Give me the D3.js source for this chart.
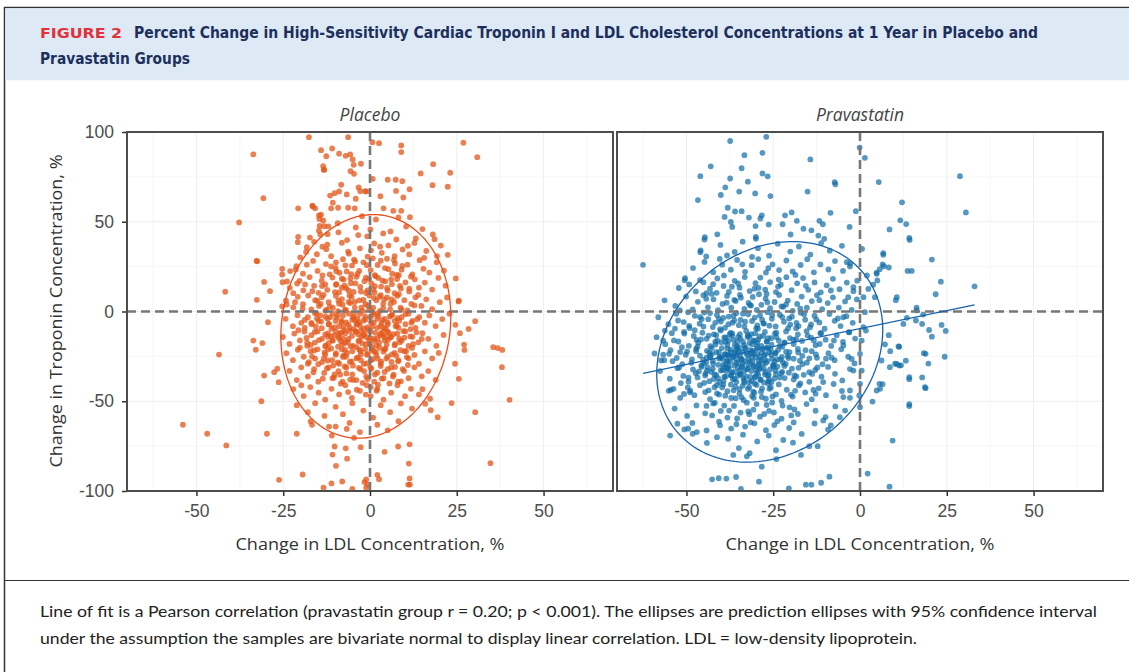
<!DOCTYPE html>
<html lang="en">
<head>
<meta charset="utf-8">
<title>Figure 2</title>
<script src="https://cdn.jsdelivr.net/npm/d3@7"></script>
<style>
  body { margin:0; background:#fff; }
  svg { display:block; font-family:"Open Sans","Noto Sans",sans-serif; }
</style>
</head>
<body>
<div id="chart"></div>
<script>
// ---- data ----
var groups = ["Placebo", "Pravastatin"]
var xTicks = [-50, -25, 0, 25, 50]
var yTicks = [-100, -50, 0, 50, 100]
var xMinor = [-62.5, -37.5, -12.5, 12.5, 37.5, 62.5]
var yMinor = [-75, -25, 25, 75]

// [change in LDL %, change in troponin %]
var placeboPoints = [
[-17.6,97.1],[-33.6,87.5],[-30.7,63.1],[-37.7,49.6],[-32.5,28],[-41.7,11],[-30.5,16.5],[-32.6,6.5],[-28.8,11.3],[-29.4,-6],[-20.7,57.5],[-20.8,38.6],[-25.3,23.8],[-23,22.5],[-21.4,23.4],[-23.9,16.7],[-21,15.6],[-22.1,10.2],[-24,3.9],[-21.6,5.2],[-25.3,2.9],[-16.5,58.5],[-15.8,57.5],[-14.1,89.9],[-12.6,86.5],[-13.5,81],[-13.2,79],[-14.7,53.5],[-13.5,50.7],[-13.2,47.5],[-14.7,45],[-12.3,37.3],
[-6.3,97.1],[0.7,94.3],[2.6,93.8],[9,92.5],[9,88.8],[26.9,94],[30.9,86],[-10.9,90.8],[-8.9,87.9],[-7,86.7],[-5.7,87.5],[-5,84.7],[-4.7,81.7],[-2.6,82.3],[-5.6,78.2],[-4.6,76.7],[-13.3,78.9],[0.8,73.9],[5.1,73.4],[7.4,73.4],[9.3,72.6],[7.5,67.2],[11.4,68.1],[9.6,63.5],[3,64.2],[14.6,76.9],[18.2,82.1],[23.1,77.3],[18,70.4],[22.4,69.5],[-8.3,70.6],[-3.3,69.1],[-2.8,67],[-1.4,67],[-16.6,59],[-14.1,53.9],[-10.7,60.6],[-11.2,57.5],[-9.2,57.8],[-6.3,57.8],[-4.4,57.5],[3.9,57.5],[6.7,56.1],[9,56.1],[-32.7,28.2],[-25.3,20.6],[-20.7,41.6],[-18.2,35.8],[-16.1,38.8],[-14.3,42.9],[-14.5,47.7],[-12,47.4],[18.1,42.9],[18.6,40.3],[22.4,31.6],[24.7,18.4],[25.6,6.1],[-10.2,65.9],[-11.5,64.6],[-6.7,65.2],[-4.1,62.8],[-1,66.9],[-8.9,66.9],[11.5,52.5],[-14.6,51.6],
[-33.6,-16.2],[-31,-17.6],[-32.9,-21.3],[-30.5,-35.7],[-27.6,-33.8],[-26.7,-31.9],[-31.3,-50],[-29.7,-68.1],[-21.1,-68.1],[-19.4,-90.8],[-26.2,-93.8],[-10.8,-79.7],[-10.2,-75.2],[-7,-76.2],[-2.7,-75.6],[-13.4,-98.2],[-11.1,-95.8],[-8,-94.7],[-5.1,-98.8],[-1.1,-93.6],[-1.6,-95],[-0.7,-96.4],[-1.1,-98.2],[2.1,-91],[2.6,-93.4],[4.2,-78.2],[8.1,-75.2],[11.4,-74],[11.2,-84.7],[11.4,-93],[11,-96.4],[11.5,-96.4],[17.5,-55],[19.5,-58.9],[23.5,-51],[30.3,-56.1],[34.7,-84.5],[40.2,-49.2],[38,-31],[35.5,-19.9],[36.8,-20.4],[38.1,-21.4],[30.3,-5.4],[28.4,-9.7],[27.1,-18.4],[27.2,-21.4],[25.6,-37.5],[24.5,-29.1],[25.9,-12.1],[24.6,-7.4],[25.5,5.6],[17.3,-48.6],[15.9,-51.4],[15.1,-43.3],[-53.9,-63.1],[-46.9,-68.1],[-41.4,-74.6],[-43.5,-24],[-4.6,-70.4],[-6.7,-65.4],[-9.9,-64.1],[-11,-69.1],[-16.7,-63.1],[-26.3,-39.4],[-9.8,-86],[-6.6,-82],
[-9.3,49.2],[-4.1,46.8],[1.7,51.3],[5.9,44.6],[-12.2,43.1],[-0.8,41.9],[10.4,47.3],[13.2,40.7],[-6.6,39.8],[3.8,43.5],[15.1,45.9],[-17.3,41.2],[8.2,52.4],[-2.3,53.1],
[-18.4,33.2],[-13.7,36.1],[-11.2,30.8],[-8.1,38.3],[-6.3,33.4],[-2.9,35.2],[-0.7,30.6],[1.2,37.9],[3.4,32.7],[5.3,36.8],[7.1,30.9],[9.4,34.6],[11.3,31.8],[12.8,38.2],[16.2,33.7],[19.3,30.9],[-20.1,30.2],[-4.6,28.9],[20.4,36.7],[-9.8,27.3],[0.3,34.1],
[-21.2,25.3],[-19.3,21.1],[-16.4,28.2],[-15.1,22.6],[-12.7,26.4],[-11.6,20.7],[-9.9,24.2],[-7.8,29.1],[-6.7,22.3],[-5.2,25.6],[-3.6,20.9],[-1.9,27.4],[0.2,23.1],[1.4,20.3],[3.1,28.3],[4.3,24.2],[6.4,21.1],[7.2,26.8],[9.1,23.3],[10.8,26.1],[12.2,20.6],[14.3,28.6],[15.4,23.8],[17.1,21.7],[19.2,27.4],[21.3,22.8],[-0.9,25.8],[-18.2,26.1],[8.3,20.2],[4.9,29.4],[-8.8,21.6],[2.2,25.9],
[-23.1,13.2],[-20.3,17.1],[-19.2,11.8],[-17.4,19.2],[-16.1,14.3],[-14.8,10.4],[-13.9,17.2],[-12.3,12.1],[-10.8,18.9],[-9.7,15.2],[-8.9,10.7],[-7.6,17.8],[-6.8,12.9],[-5.5,15.8],[-4.7,10.9],[-3.9,19.3],[-2.8,13.7],[-1.6,16.9],[-0.7,11.8],[0.4,15.6],[1.3,10.6],[2.4,18.7],[3.2,13.9],[4.4,16.8],[5.1,11.7],[6.3,15.2],[7.8,18.1],[8.9,12.8],[10.2,16.2],[11.3,11.2],[12.9,17.9],[14.1,13.3],[15.8,16.1],[17.9,12.2],[19.7,18.7],[21.8,14.4],[-12.9,15.1],[7.1,10.2],[-25.2,16.3],[-0.3,18.1],[-7.3,14.4],
[-24.2,6.1],[-22.1,2.3],[-20.8,8.2],[-19.3,4.1],[-17.8,8.9],[-16.9,1.2],[-15.8,6.3],[-14.7,3.1],[-13.9,7.9],[-12.8,0.4],[-11.9,5.2],[-10.7,2.1],[-9.8,8.7],[-8.9,4.3],[-8.1,6.9],[-7.2,1.1],[-6.1,5.3],[-5.3,8.1],[-4.4,2.2],[-3.1,6.2],[-2.2,0.3],[-1.3,4.1],[-0.2,8.9],[0.9,2.1],[1.8,6.2],[2.9,0.4],[3.8,4.3],[4.9,7.8],[5.8,1.2],[6.9,5.3],[7.8,8.7],[8.8,2.1],[9.9,6.3],[10.8,0.6],[11.9,4.2],[13.1,7.9],[14.8,3.1],[16.2,6.8],[17.9,1.3],[20.1,5.2],[22.2,7.8],[-9.2,0.2],[3.1,9.1],[-14.2,4.2],[6.2,6.8],[-0.6,3.2],[-5.7,4.7],[1.1,7.6],
[-24.3,-4.1],[-22.2,-8.2],[-20.9,-2.1],[-19.8,-6.3],[-18.8,-9.1],[-17.9,-3.2],[-16.8,-7.1],[-15.9,-0.8],[-14.8,-5.2],[-13.9,-9.3],[-12.8,-2.9],[-11.9,-7.2],[-10.8,-1.1],[-9.9,-5.3],[-8.9,-8.2],[-7.8,-2.2],[-6.9,-6.1],[-5.8,-9.2],[-4.9,-3.1],[-3.9,-7.2],[-2.9,-1.2],[-1.9,-5.1],[-0.8,-8.9],[0.2,-3.2],[1.1,-6.1],[2.2,-1.1],[3.1,-8.2],[4.2,-4.1],[5.1,-7.2],[6.2,-2.1],[7.1,-5.2],[8.2,-9.1],[9.1,-3.2],[10.2,-7.1],[11.1,-1.2],[12.2,-5.2],[13.1,-9.1],[14.2,-3.1],[15.8,-6.2],[17.1,-2.2],[18.9,-8.1],[20.8,-4.2],[22.9,-1.2],[-8.2,-5.1],[-3.2,-6.1],[2.1,-4.1],[-12.2,-4.1],[-6.1,-1.2],[4.1,-9.1],[-10.3,-8.8],[-4.4,-4.6],[0.7,-0.4],[-15.3,-3.9],[7.7,-7.6],[-1.4,-2.7],
[-25.1,-14.2],[-23.2,-18.1],[-21.8,-12.3],[-20.2,-16.1],[-18.9,-11.2],[-18.1,-19.1],[-16.9,-13.2],[-15.9,-17.3],[-15.1,-11.1],[-13.8,-15.2],[-12.9,-19.3],[-12.1,-12.2],[-10.9,-16.2],[-9.8,-11.1],[-9.1,-14.1],[-7.9,-18.2],[-7.1,-12.1],[-6.2,-15.3],[-4.9,-19.1],[-4.1,-11.2],[-3.1,-16.1],[-1.9,-13.2],[-1.1,-18.3],[0.1,-11.1],[1.2,-15.2],[1.9,-19.1],[3.1,-12.2],[4.2,-16.1],[5.1,-11.3],[6.1,-14.2],[7.2,-18.1],[7.9,-12.3],[9.1,-16.2],[10.2,-11.1],[11.1,-19.2],[12.2,-14.1],[13.9,-17.2],[15.1,-12.1],[16.8,-15.2],[19.1,-19.1],[21.2,-13.1],[-5.9,-10.8],[-0.9,-14.3],[3.8,-13.4],[-11.3,-13.7],[8.4,-15.1],[-2.6,-10.6],[-8.4,-16.6],
[-24.1,-23.2],[-22.2,-27.1],[-20.8,-21.3],[-19.1,-25.2],[-17.9,-29.1],[-17.1,-22.1],[-15.8,-26.2],[-15.1,-21.1],[-13.8,-28.2],[-12.9,-24.1],[-12.1,-21.2],[-10.9,-27.1],[-9.8,-23.2],[-8.9,-29.1],[-8.1,-21.1],[-6.9,-25.2],[-5.8,-28.1],[-5.1,-22.2],[-3.9,-26.1],[-3.1,-21.2],[-1.8,-29.2],[-0.9,-24.1],[0.2,-27.2],[1.1,-22.1],[2.2,-26.2],[3.1,-29.1],[4.2,-21.1],[5.1,-25.2],[6.2,-28.1],[7.1,-23.1],[8.2,-27.2],[9.9,-22.1],[11.1,-26.1],[12.8,-24.2],[14.1,-29.1],[15.8,-22.2],[17.9,-26.1],[19.8,-23.1],[-7.6,-24.4],[-2.6,-23.8],
[-23.2,-33.1],[-21.1,-38.2],[-19.8,-31.1],[-17.9,-36.2],[-16.1,-32.1],[-14.9,-39.1],[-13.2,-34.2],[-11.9,-31.1],[-10.8,-37.2],[-9.1,-33.2],[-7.9,-39.1],[-6.8,-31.2],[-5.1,-35.1],[-3.9,-38.2],[-2.8,-32.1],[-1.1,-36.2],[0.1,-31.1],[1.2,-39.1],[2.1,-34.1],[3.9,-37.2],[5.1,-32.1],[6.8,-35.2],[8.1,-39.1],[9.8,-33.1],[11.1,-37.2],[12.8,-31.1],[14.9,-36.1],[16.8,-33.2],[18.9,-38.1],[-10.2,-35.1],
[-22.1,-43.2],[-19.1,-47.1],[-17.2,-42.1],[-14.8,-45.2],[-12.9,-49.1],[-11.1,-43.1],[-8.9,-46.2],[-7.1,-41.1],[-5.2,-48.1],[-2.9,-44.2],[-0.9,-41.1],[0.2,-47.1],[2.1,-43.2],[3.9,-49.1],[6.1,-45.2],[7.9,-41.1],[10.1,-47.2],[11.8,-43.1],[14.1,-46.2],[-19.8,-41.1],
[-21.1,-52.2],[-17.9,-56.1],[-15.8,-51.1],[-13.1,-58.2],[-9.9,-53.1],[-7.8,-57.2],[-5.1,-51.1],[-1.9,-55.2],[0.9,-59.1],[3.1,-52.2],[5.8,-56.1],[8.9,-51.2],[12.1,-54.1],
[-17.1,-61.2],[-11.8,-64.1],[-5.9,-62.1],[-2.9,-67.2],[2.1,-63.1],[5.1,-66.2],[8.2,-61.1]
]

// the crowded middle of the placebo cloud
var placeboCorePoints = [
[-3.4,-12.7],[-7.9,3.8],[2.6,-17.4],[-11.2,-20.6],[5.7,-2.9],[-15.6,-8.3],[0.9,12.4],[-5.3,-27.8],[8.8,-21.6],[-1.7,-33.2],[-9.6,-3.4],[4.1,6.7],[-13.8,14.2],[11.7,-9.8],[-6.4,-16.9],[1.8,-24.3],[-18.3,-14.7],[7.2,-30.9],[-2.5,2.1],[-10.1,10.8],
[3.3,-6.6],[-4.8,-38.1],[13.6,-4.3],[-16.7,-25.1],[-0.4,-10.2],[6.1,17.9],[-8.7,-12.3],[9.9,-14.6],[-12.4,-31.7],[-3.1,22.6],[2.3,-40.8],[-7.2,-21.4],[12.8,3.4],[-19.4,1.6],[0.6,-19.7],[-5.9,8.9],[4.7,-26.2],[-14.3,-2.2],[8.3,9.6],[-1.2,-46.3],
[-9.3,-28.4],[5.4,-11.9],[-17.1,-18.6],[1.1,-1.6],[-4.2,15.7],[10.6,-25.4],[-11.8,-6.9],[-2.7,-22.1],[7.9,-3.7],[-6.8,-34.5],[3.8,1.9],[-13.1,-22.8],[14.9,-15.3],[-0.9,-28.9],[-8.1,18.3],[6.6,-36.2],[-15.2,5.9],[2.9,-13.3],[-5.1,-4.6],[11.3,12.7],
[-10.7,-16.1],[-1.9,6.4],[4.4,-20.8],[-20.6,-10.4],[8.6,-17.2],[-3.8,-43.6],[-12.9,-12.8],[0.3,-6.3],[-7.6,-8.7],[9.4,-32.1],[-2.2,-17.8],[5.9,4.2],[-16.3,-33.9],[1.6,19.6],[-9.9,-24.1],[12.1,-20.3],[-4.6,-1.3],[3.1,-30.4],[-14.7,-15.9],[7.4,-8.2],
[-0.7,-37.6],[-6.1,11.6],[10.2,-1.4],[-11.6,2.7],[2.1,-9.1],[-8.4,-40.2],[6.3,-23.9],[-18.8,-4.7],[-3.5,-25.6],[4.9,13.1],[-12.2,-27.3],[0.1,-14.8],[-5.6,-19.3],[13.4,-11.6],[-9.1,6.1],[1.4,-35.1],[-15.9,-11.4],[8.1,-27.7],[-2.9,-7.9],[-7.3,-30.6],
[3.6,-4.9],[-13.4,9.3],[11.9,-6.3],[-1.4,-20.9],[5.2,-15.8],[-10.4,-36.8],[-4.1,-11.1],[7.7,20.4],[-17.6,-28.2],[0.8,-26.6],[-6.9,0.6],[9.6,-10.9],[-12.7,-18.9],[2.7,8.1],[-8.9,-14.9],[4.2,-33.7],[-20.2,-20.1],[-0.2,1.3],[-3.2,-31.4],[6.8,-12.6],
[-11.1,-9.6],[1.9,-44.2],[-5.4,20.8],[10.9,-29.8],[-14.1,-5.6],[3.9,-22.4],[-7.8,-25.3],[-1.1,10.3],[8.4,-5.1],[-16.1,-21.7],[5.6,-40.1],[-9.4,-1.9],[-2.4,-14.1],[12.4,-18.2],[-6.3,-44.9],[0.4,-31.8],[-13.6,-37.4],[7.1,-18.9],[-4.4,5.3],[2.4,-2.6],
[-10.6,-30.1],[-0.6,-23.6],[9.1,1.1],[-15.4,-1.1],[4.6,-9.7],[-7.1,-17.5],[-3.6,-3.8],[6.1,-31.2],[-12.1,-14.1],[1.2,-16.4],[-8.2,-6.1],[11.6,-13.9],[-5.7,-37.9],[-18.1,-17.3],[3.4,-37.4],[-1.8,-9.6],[-9.8,14.9],[7.6,-24.7],[-14.9,-29.4],[0.2,-42.1],
[-6.6,-23.1],[2.8,-20.2],[-11.4,-3.1],[5.1,-6.1],[-3.3,-16.7],[8.9,-38.9],[-16.9,-6.3],[-0.1,-18.1],[-8.6,-35.2],[4.3,-14.2],[-12.6,0.9],[10.4,-22.1],[-4.9,-30.2],[1.5,-11.9],[-7.4,-10.4],[6.4,-1.7],[-2.1,-39.8],[-13.3,-26.1],[3.2,-27.9],[-9.2,-19.6],
[-1.3,-4.4],[-5.2,-13.6],[0.7,-8.4],[-3.9,-19.9],[2.2,-14.9],[-6.2,-7.3],[1.7,-22.6],[-8.3,-11.8],[-2.6,-27.1],[4.8,-18.4],[-10.2,-13.2],[-0.3,-16.1],[-4.7,-9.8],[3.7,-11.2],[-7.7,-15.1],[-1.6,-12.4],[5.8,-14.4],[-11.9,-17.7],[0.5,-21.3],[-3.7,-6.8],
[-9.7,22.4],[-4.3,27.9],[0.8,29.6],[5.3,23.6],[-13.7,20.1],[-1.2,18.8],[8.6,14.3],[-7.1,25.7],[3.6,17.2],[-16.6,11.3],[11.8,19.4],[-2.6,11.1],[-11.2,25.1],[6.9,28.7],[-5.6,18.4],[1.4,14.1],[-8.1,13.3],[13.9,9.2],[-18.7,15.1],[9.3,25.4],
[-6.1,32.2],[2.9,36.1],[-12.6,34.7],[7.6,40.1],[-3.4,42.6],[10.9,36.6],[-15.3,31.9],[0.1,45.7],[-9.1,44.1],[15.6,29.9]
]

var pravastatinPoints = [
[-37.4,95],[-27,97.3],[-28.1,88.4],[-33.3,87.1],[-43,80.9],[-46,75.4],[-34.1,79.8],[-28.1,76.9],[-26.6,75.3],[-37.4,74.1],[-32.3,72.3],[-38.8,69.2],[-40.1,64.9],[-34.8,66.8],[-30.2,65.8],[-25.8,64.3],[-46.7,62.1],[-14.3,84.7],[-15.1,66.8],[-7.3,72.1],[-7.1,70.9],[-0.1,91.3],[1.4,85.6],[5.4,72.1],[28.8,75.4],[30.5,55.2],[12.1,60.8],[11.6,50.8],[13.3,48.7],[8.5,45.7],[14.3,39.9],[20.7,28.9],[33,14],[23.3,16.6],[21.8,9.6],[13.7,22.6],[14.9,22.6],[10.3,6.3],[16.3,0.6],[17.9,-6.9],[19.9,-10.3],[23.5,-7.5],[24.7,-10.8],[-62.5,26],[-50.5,17.4],[-49.2,15.1],[-46.1,17.5],[-46,33],[-44.3,30.7],[-44.8,40.1],[-41.1,43],[-39,52.7],[-37.2,49.9],[-36.8,47.1],[-38.1,57.8],[-36,55.7],[-34.1,55.9],[-32,52.3],[-30.1,47.6],[-28.7,51.8],[-28.3,53.6],[-30,40.5],[-26.3,48.4],[-21.6,53.6],[-19.7,55.2],[-18.2,50.5],[-22.3,48.6],[-16.3,46.1],[-14,45.2],[-11.7,50.5],[-10.7,48.6],[-8.5,55],[-10.3,40.5],[-3,47.1],[-1.2,55.9],[0.6,34.9],[6.7,31.6],[5.7,23.6],[8.3,24.5],[4.8,21.7],
[-54.5,-43.7],[-53.7,-43.1],[-54.7,-69.1],[-52.6,-62.5],[-50.6,-65.7],[-49.5,-65.3],[-48.2,-68.1],[-47,-67.2],[-41.2,-70],[-38,-70.9],[-42.6,-93.5],[-40.7,-92.9],[-38.5,-93.1],[-35.7,-92.2],[-34.3,-98.8],[-29.1,-94.8],[-20.5,-98.5],[-36.5,-79.9],[-32.6,-80.7],[-28.3,-86.5],[-24.1,-82.2],[-17,-79.9],[-14.6,-75],[-12.2,-75],[-15.6,-96.5],[-14,-96.5],[-11.2,-95.4],[-8.8,-92],[2.2,-90.3],[8.5,-97.6],[9.4,-71.9],[14.2,-52.7],[18.9,-42.7],[17.9,-36.7],[14.2,-37.7],[24.4,-25.2],[18.9,-23.6],[19.7,-29],[20.7,-14],[10.6,-29.2],[11.8,-30],[13.2,-27.4],[11.3,-19.6],[8.7,-22.1],[7.2,-18.3],[6.5,-40.5],[5.8,-43.1],[3.6,-50.2],[-56.7,-24],[-54,-27.7],[-51.8,-22.6],[-50.6,-12.3],[-53.3,-9.5],[-49.2,-8],
[-44.7,41.4],[-30,41.6],[-20,42.9],[-12,42.3],[-45.9,34],[-50.4,18.6],[-44.2,10.2],[-42.7,9.8],[-51.9,0.6],[-49.5,-0.4],[-52.4,-5],[-56.2,-10.6],[-56.7,-16.2],[-57.3,-27.3],[-55,-23.6],[-50.7,-45.9],[-49,-45],[14.2,41],[16.3,2.1],[18.2,-1.7],[16.1,-5],[18.4,-23.2],[14.2,-36.6],[18.7,-42.2],[14.2,-51.6],[10.6,8],[12.5,-6.9],[13.5,-3.5],[11.3,-30.1],[10.1,-29.1],[8.6,-31],[11.1,-19.5],[8.3,-13.2],[6.2,-27.3],[5.6,-40.3],[4.8,-44],[6.7,32.5],[6.5,26.2],[6.9,25.2],[4.8,21],[5,17.3],[3.8,14.9],[4.3,8],[2,20.1],[2.4,12.6],[1,8],[1.4,-0.4],[1,-8.7],[1.7,-10.6],[0.5,-16.2],[0,-23.6],[0.5,-32.9],[0,-40.3],[-0.2,-46.8],[0,-53.3],[-3.8,27.5],[-2.9,25.1],[-1.9,13.5],[-3.4,8],[-4.8,-3.2],[-3.2,-11.5],[-4.8,-18.9],[-2.4,-26.4],[-1.9,-32.9],[-4.8,-47.7],[-2.9,-44],[-4.3,-55.2],[-5.8,-58.9],[-8.4,-63.5],[-10.6,-60.7],
[-40.2,37.1],[-36.1,33.2],[-33.8,38.9],[-29.4,35.3],[-26.2,31.1],[-23.7,37.8],[-20.1,33.4],[-17.6,36.2],[-14.3,31.7],[-11.2,38.1],[-8.7,33.9],[-5.2,36.6],[-31.1,30.4],[-38.3,31.2],
[-48.1,24.2],[-44.8,27.6],[-42.3,21.9],[-39.7,26.1],[-37.2,23.3],[-35.4,28.7],[-33.1,22.1],[-31.2,25.8],[-29.3,29.2],[-27.1,21.7],[-25.2,26.3],[-23.3,23.1],[-21.2,28.4],[-19.4,22.3],[-17.1,25.9],[-15.2,29.1],[-13.3,21.8],[-11.4,26.2],[-9.1,23.4],[-7.2,28.1],[-4.9,22.6],[-2.8,26.7],[-33.9,26.3],[-26.4,24.1],[-18.6,20.4],[-40.4,29.3],
[-52.2,13.1],[-47.3,11.2],[-45.1,16.3],[-43.2,12.7],[-41.1,18.4],[-39.3,14.2],[-37.8,10.9],[-36.1,17.1],[-34.7,13.3],[-33.2,19.2],[-31.8,11.4],[-30.1,15.8],[-28.7,18.9],[-27.3,12.2],[-25.9,16.4],[-24.2,10.8],[-22.8,14.9],[-21.2,19.1],[-19.7,11.9],[-18.1,15.7],[-16.4,18.6],[-14.9,12.1],[-13.1,16.2],[-11.3,10.7],[-9.6,14.6],[-7.8,18.2],[-5.9,12.4],[-3.8,16.1],[-1.9,11.3],[-36.9,13.8],[-29.2,13.2],[-23.4,17.8],[-15.6,14.3],[-42.3,15.2],[-8.4,11.7],[-0.8,17.2],
[-56.3,6.2],[-53.2,3.1],[-50.1,8.3],[-48.2,1.2],[-46.7,5.4],[-45.1,9.1],[-43.8,2.3],[-42.2,6.8],[-40.9,0.7],[-39.6,4.2],[-38.3,8.7],[-37.1,2.1],[-35.8,5.9],[-34.6,9.3],[-33.3,1.4],[-32.1,4.8],[-30.9,8.1],[-29.7,0.9],[-28.4,3.7],[-27.2,7.2],[-25.9,1.8],[-24.6,5.3],[-23.3,9.2],[-22.1,2.6],[-20.8,6.1],[-19.4,0.4],[-18.1,4.2],[-16.8,8.3],[-15.3,2.1],[-13.9,5.8],[-12.4,9.1],[-10.9,1.3],[-9.3,4.7],[-7.8,7.9],[-6.1,2.2],[-4.3,5.6],[-2.4,0.9],[-0.9,6.7],[-36.2,6.4],[-31.4,3.3],[-26.7,5.1],[-21.3,3.9],[-44.3,7.1],[-17.2,1.6],[-11.7,6.3],[-29.1,9.6],
[-58.1,-3.2],[-55.2,-7.1],[-52.9,-1.3],[-50.8,-5.9],[-49.1,-9.2],[-47.6,-2.4],[-46.2,-6.8],[-44.9,-0.6],[-43.7,-4.3],[-42.4,-8.7],[-41.2,-1.9],[-40.1,-5.6],[-38.9,-9.1],[-37.8,-2.8],[-36.7,-6.2],[-35.6,-0.9],[-34.4,-4.7],[-33.3,-8.4],[-32.2,-1.6],[-31.1,-5.3],[-29.9,-9.4],[-28.8,-2.1],[-27.7,-6.7],[-26.6,-0.4],[-25.4,-4.1],[-24.3,-8.3],[-23.1,-1.8],[-21.9,-5.7],[-20.7,-9.3],[-19.6,-2.9],[-18.3,-6.4],[-17.1,-0.7],[-15.8,-4.6],[-14.4,-8.8],[-13.1,-2.3],[-11.7,-6.1],[-10.2,-9.6],[-8.8,-1.4],[-7.3,-5.2],[-5.6,-8.1],[-3.9,-2.6],[-2.1,-6.3],[-39.4,-3.6],[-34.9,-7.6],[-30.3,-3.4],[-26.1,-7.9],[-22.4,-3.1],[-17.7,-8.1],[-12.6,-4.4],[-45.6,-4.2],[-36.2,-4.9],[-28.2,-4.6],[-6.4,-3.9],[-41.7,-6.3],
[-58.6,-14.3],[-56.1,-18.2],[-54.2,-12.1],[-52.3,-16.7],[-50.7,-11.3],[-49.3,-19.1],[-47.9,-13.6],[-46.6,-17.4],[-45.4,-11.8],[-44.2,-15.2],[-43.1,-19.3],[-42.1,-12.7],[-41.1,-16.3],[-40.1,-10.6],[-39.1,-14.4],[-38.2,-18.6],[-37.3,-11.9],[-36.4,-15.8],[-35.5,-19.4],[-34.6,-12.6],[-33.7,-16.9],[-32.8,-10.8],[-31.9,-14.1],[-31.1,-18.3],[-30.2,-12.2],[-29.3,-15.6],[-28.4,-19.1],[-27.4,-11.4],[-26.5,-14.9],[-25.5,-18.4],[-24.5,-12.3],[-23.4,-16.2],[-22.4,-19.7],[-21.3,-11.1],[-20.2,-14.8],[-19.1,-18.1],[-17.9,-12.7],[-16.7,-16.4],[-15.4,-10.9],[-14.1,-14.6],[-12.8,-18.8],[-11.4,-12.1],[-9.9,-15.7],[-8.3,-19.2],[-6.7,-13.3],[-4.9,-16.9],[-3.1,-11.6],[-1.4,-15.1],[-43.6,-13.4],[-38.7,-16.9],[-35.1,-14.2],[-32.3,-13.1],[-29.6,-17.3],[-26.9,-16.6],[-24.1,-14.3],[-21.7,-17.2],[-18.4,-15.4],[-13.3,-16.1],[-7.5,-16.2],[-47.1,-15.8],[-36.9,-13.4],[-30.7,-16.1],[-27.9,-13.6],[-33.4,-18.7],
[-59.2,-23.4],[-56.4,-27.1],[-54.6,-21.6],[-52.8,-25.9],[-51.2,-29.4],[-49.8,-22.3],[-48.4,-26.7],[-47.2,-20.8],[-46.1,-24.6],[-45.1,-28.8],[-44.1,-21.9],[-43.2,-25.4],[-42.3,-29.1],[-41.4,-22.7],[-40.6,-26.2],[-39.8,-20.4],[-38.9,-23.9],[-38.1,-27.6],[-37.3,-21.3],[-36.5,-25.1],[-35.7,-28.7],[-34.9,-22.2],[-34.1,-26.4],[-33.3,-20.6],[-32.5,-24.3],[-31.7,-28.1],[-30.9,-21.8],[-30.1,-25.6],[-29.2,-29.3],[-28.3,-22.9],[-27.4,-26.8],[-26.5,-20.3],[-25.6,-24.1],[-24.6,-27.9],[-23.6,-21.4],[-22.5,-25.3],[-21.4,-29.2],[-20.3,-22.6],[-19.1,-26.3],[-17.9,-20.9],[-16.6,-24.7],[-15.3,-28.5],[-13.9,-22.1],[-12.4,-25.8],[-10.8,-29.4],[-9.1,-23.2],[-7.3,-27.1],[-5.4,-21.1],[-3.4,-25.2],[-1.6,-28.9],[-42.7,-23.6],[-39.3,-29.6],[-36.1,-23.1],[-33.7,-28.9],[-31.3,-23.4],[-28.8,-25.2],[-26.1,-22.7],[-23.9,-26.6],[-20.8,-24.8],[-17.3,-27.4],[-37.7,-24.5],[-34.6,-24.8],[-32.1,-26.6],[-29.6,-20.6],[-27.1,-28.7],[-40.2,-25.6],[-35.3,-20.9],[-24.3,-23.1],[-14.6,-26.1],[-8.2,-25.7],
[-57.6,-33.2],[-54.8,-37.4],[-52.6,-31.6],[-50.9,-35.9],[-49.4,-39.1],[-48.1,-32.3],[-46.8,-36.7],[-45.6,-30.8],[-44.5,-34.6],[-43.4,-38.8],[-42.4,-31.9],[-41.4,-35.4],[-40.5,-39.3],[-39.6,-32.7],[-38.7,-36.2],[-37.8,-30.4],[-36.9,-33.9],[-36.1,-37.6],[-35.2,-31.3],[-34.3,-35.1],[-33.4,-38.7],[-32.5,-32.2],[-31.6,-36.4],[-30.7,-30.6],[-29.7,-34.3],[-28.7,-38.1],[-27.7,-31.8],[-26.6,-35.6],[-25.5,-39.3],[-24.3,-32.9],[-23.1,-36.8],[-21.8,-30.3],[-20.5,-34.1],[-19.1,-37.9],[-17.7,-31.4],[-16.2,-35.3],[-14.6,-39.2],[-12.9,-32.6],[-11.1,-36.3],[-9.2,-30.9],[-7.2,-34.7],[-5.1,-38.4],[-2.9,-32.1],[-44.1,-32.9],[-40.9,-37.2],[-37.2,-35.7],[-34.8,-33.2],[-31.9,-39.4],[-29.1,-32.4],[-26.2,-37.8],[-22.4,-33.6],[-18.3,-36.1],[-13.8,-34.8],[-38.3,-31.6],[-33.9,-30.7],[-30.3,-36.9],[-47.3,-34.4],[-24.8,-30.9],
[-55.1,-44.2],[-51.8,-48.1],[-49.6,-42.3],[-47.7,-46.6],[-46.1,-41.1],[-44.6,-44.9],[-43.2,-48.8],[-41.9,-42.2],[-40.6,-46.3],[-39.4,-40.7],[-38.2,-44.4],[-37.1,-48.2],[-35.9,-41.8],[-34.7,-45.7],[-33.5,-49.4],[-32.3,-43.1],[-31.1,-47.1],[-29.8,-40.9],[-28.5,-44.7],[-27.1,-48.6],[-25.7,-42.3],[-24.2,-46.2],[-22.6,-49.8],[-21.1,-43.6],[-19.4,-47.4],[-17.6,-41.2],[-15.8,-45.1],[-13.9,-48.9],[-11.9,-42.8],[-9.8,-46.6],[-7.6,-40.4],[-5.2,-44.3],[-36.4,-43.9],[-30.4,-45.3],[-26.4,-40.2],[-41.2,-45.6],[-34.1,-47.8],[-18.7,-44.2],[-12.8,-45.8],[-2.9,-48.1],
[-53.4,-54.1],[-49.8,-58.2],[-47.1,-52.3],[-44.6,-56.7],[-42.3,-51.2],[-40.1,-55.4],[-38.2,-59.1],[-36.3,-52.6],[-34.4,-56.3],[-32.6,-50.8],[-30.7,-54.7],[-28.8,-58.6],[-26.9,-52.1],[-24.8,-56.2],[-22.6,-59.7],[-20.3,-53.4],[-17.9,-57.1],[-15.4,-51.6],[-12.8,-55.3],[-9.9,-58.8],[-7.1,-52.9],[-39.1,-52.4],[-31.9,-57.3],[-25.3,-50.7],[-18.9,-54.6],
[-48.3,-62.1],[-44.2,-66.3],[-40.6,-61.4],[-37.1,-65.2],[-33.7,-68.6],[-30.4,-62.3],[-27.1,-66.1],[-23.8,-61.2],[-20.4,-64.9],[-16.8,-68.2],[-13.1,-62.4],[-9.2,-65.8],[-35.6,-62.8],[-26.3,-69.1],[-19.1,-61.8],
[-44.1,-73.2],[-34.9,-76.1],[-29.6,-72.4],[-24.2,-77.3],[-19.3,-73.1],[-31.8,-78.9],[-22.1,-71.6]
]

// the crowded middle of the pravastatin cloud
var pravastatinCorePoints = [
[-34.2,-26.8],[-29.7,-19.3],[-38.4,-33.1],[-24.9,-29.6],[-41.6,-18.4],[-31.2,-38.7],[-36.8,-12.2],[-27.6,-24.4],[-44.3,-28.3],[-21.8,-17.6],[-33.1,-5.7],[-39.7,-42.3],[-26.3,-35.2],[-35.9,-21.7],[-30.6,-30.3],[-47.2,-22.1],[-19.6,-31.8],[-37.4,-27.9],[-28.9,-13.9],[-42.1,-37.6],
[-32.6,-23.1],[-23.4,-40.6],[-40.3,-9.8],[-35.2,-35.8],[-29.1,-27.3],[-45.8,-15.6],[-25.7,-21.1],[-38.9,-23.8],[-31.8,-17.4],[-43.6,-43.9],[-27.3,-33.7],[-36.2,-30.2],[-20.6,-25.9],[-33.8,-41.4],[-40.8,-29.7],[-24.1,-11.8],[-30.1,-36.1],[-37.9,-16.3],[-46.4,-33.4],[-28.2,-42.9],
[-34.9,-19.8],[-22.7,-34.4],[-39.1,-36.4],[-32.1,-29.6],[-26.8,-16.9],[-43.1,-24.6],[-35.6,-39.2],[-29.6,-23.6],[-41.4,-13.2],[-24.6,-37.3],[-33.4,-33.4],[-38.2,-20.7],[-27.9,-29.1],[-44.9,-39.8],[-31.4,-12.6],[-36.7,-25.6],[-21.3,-22.4],[-40.1,-32.8],[-30.8,-44.6],[-34.4,-15.1],
[-25.3,-26.2],[-42.7,-20.4],[-28.6,-37.9],[-37.2,-40.7],[-32.9,-20.1],[-23.8,-30.7],[-39.6,-26.4],[-29.9,-32.6],[-45.2,-26.9],[-35.1,-28.6],[-26.1,-43.1],[-41.9,-35.1],[-31.1,-25.1],[-37.6,-12.9],[-27.1,-20.3],[-43.9,-31.1],[-33.6,-37.1],[-22.2,-28.4],[-38.6,-29.3],[-30.4,-16.4],
[-36.3,-33.7],[-24.4,-23.3],[-40.6,-22.6],[-28.4,-26.9],[-34.7,-43.3],[-46.8,-19.6],[-32.3,-31.7],[-25.9,-32.3],[-39.3,-38.6],[-29.4,-9.6],[-35.4,-23.9],[-42.4,-27.4],[-27.7,-39.6],[-31.6,-21.6],[-37.1,-35.4],[-23.1,-19.1],[-44.6,-35.7],[-33.2,-27.6],[-38.1,-24.2],[-26.6,-27.6],
[-30.3,-40.2],[-36.1,-18.6],[-41.2,-40.9],[-28.8,-31.6],[-34.1,-30.9],[-21.7,-37.1],[-39.9,-17.1],[-32.8,-36.3],[-25.6,-14.9],[-43.4,-22.9],[-29.3,-35.4],[-35.7,-26.3],[-31.9,-42.1],[-37.8,-31.9],[-24.2,-34.9],[-40.4,-25.1],[-27.2,-23.7],[-33.9,-22.6],[-45.7,-30.1],[-30.9,-27.9],
[-38.7,-14.6],[-26.4,-38.9],[-36.6,-37.8],[-32.4,-14.2],[-42.9,-33.6],[-28.1,-20.9],[-34.6,-34.7],[-22.9,-26.7],[-39.4,-31.3],[-30.7,-23.3],[-37.3,-22.9],[-25.1,-30.1],[-41.7,-16.8],[-33.3,-39.6],[-29.2,-29.9],[-35.3,-16.9],[-44.2,-25.7],[-27.4,-35.1],[-31.3,-33.2],[-38.3,-27.1],
[-18.4,-9.3],[-15.7,-21.6],[-12.3,-31.2],[-17.2,-40.1],[-14.1,-7.2],[-19.9,-46.3],[-11.6,-18.1],[-16.6,-29.4],[-13.4,-43.7],[-20.4,-3.9],[-9.8,-26.3],[-18.9,-35.6],[-15.1,-13.4],[-12.7,-23.9],[-17.8,-22.8],[-10.6,-39.3],[-14.6,-33.8],[-19.2,-15.7],[-16.1,-1.6],[-11.2,-12.1],
[-48.6,-28.6],[-51.3,-19.9],[-49.4,-36.8],[-47.6,-10.4],[-52.1,-31.2],[-50.2,-24.1],[-48.9,-44.1],[-46.1,-3.1],[-53.6,-16.1],[-51.6,-39.9],
[-36.4,-2.3],[-31.7,3.6],[-40.7,-4.1],[-27.8,-6.6],[-34.3,7.7],[-43.2,-0.9],[-25.3,-1.9],[-38.4,4.9],[-29.6,-7.8],[-22.6,2.8],[-45.1,-8.4],[-33.7,-1.2],[-20.1,-7.3],[-37.9,-7.1],[-41.3,10.4],[-26.9,9.8],[-30.4,12.7],[-35.1,15.6],[-23.6,13.9],[-39.2,20.1],
[-35.8,-48.3],[-29.8,-51.6],[-41.8,-50.9],[-25.2,-47.3],[-32.2,-55.7],[-38.8,-46.9],[-27.6,-57.1],[-44.2,-52.6],[-22.3,-52.4],[-35.4,-59.6],[-30.6,-48.1],[-40.3,-63.4],[-24.7,-63.3],[-33.1,-64.1],[-37.7,-55.2],[-19.8,-57.9],[-28.3,-47.7],[-42.6,-57.9],[-31.5,-61.8],[-26.2,-55.4]
]

// 95% prediction ellipses (centre, sd of each axis, correlation) and the pravastatin line of fit
var placeboEllipse = {cx: -1.2, cy: -8.3, sx: 10.0, sy: 25.45, r: 0.09}
var pravastatinEllipse = {cx: -26, cy: -22.5, sx: 13.3, sy: 25.1, r: 0.2}
var pravastatinFit = {slope: 0.4, intercept: -9.5, from: -62.5, to: 33}

var panels = [
  {name: groups[0], points: placeboPoints.concat(placeboCorePoints), ellipse: placeboEllipse, fit: null,
   left: 127, fill: "#E3581B", opacity: 0.76, stroke: "#EB4E1A"},
  {name: groups[1], points: pravastatinPoints.concat(pravastatinCorePoints), ellipse: pravastatinEllipse, fit: pravastatinFit,
   left: 617, fill: "#0F6CA6", opacity: 0.7, stroke: "#1763AE"}
]

var W = 1129, H = 672
var panelW = 486, panelTop = 132, panelBottom = 491
var k = 2.4477  // sqrt of chi-square(2 df) 95% quantile
var plain = function(d){ return String(d) }

var svg = d3.select("#chart").append("svg").attr("width", W).attr("height", H)

// frame, header band and caption rule
svg.append("rect").attr("x", 4.5).attr("y", 7.5).attr("width", W).attr("height", H)
  .attr("fill", "#fff").attr("stroke", "#333").attr("stroke-width", 1.5)
svg.append("rect").attr("x", 5.25).attr("y", 8.25).attr("width", W).attr("height", 72)
  .attr("fill", "#DDEAF6")
svg.append("line").attr("x1", 4.5).attr("x2", W).attr("y1", 580.5).attr("y2", 580.5)
  .attr("stroke", "#333").attr("stroke-width", 1.2)

var titleFont = "'Liberation Sans Narrow','DejaVu Sans Condensed','Liberation Sans',sans-serif"
svg.append("text").attr("x", 40).attr("y", 38).text("FIGURE 2")
  .attr("font-family", titleFont).attr("font-weight", "bold").attr("font-size", 14)
  .attr("fill", "#E2313A").attr("textLength", 82).attr("lengthAdjust", "spacingAndGlyphs")
svg.append("text").attr("x", 134).attr("y", 38)
  .text("Percent Change in High-Sensitivity Cardiac Troponin I and LDL Cholesterol Concentrations at 1 Year in Placebo and")
  .attr("font-family", titleFont).attr("font-weight", "bold").attr("font-size", 15.5)
  .attr("fill", "#1D2F5C").attr("textLength", 904).attr("lengthAdjust", "spacingAndGlyphs")
svg.append("text").attr("x", 40).attr("y", 64).text("Pravastatin Groups")
  .attr("font-family", titleFont).attr("font-weight", "bold").attr("font-size", 15.5)
  .attr("fill", "#1D2F5C").attr("textLength", 150).attr("lengthAdjust", "spacingAndGlyphs")

svg.append("text").attr("x", 40).attr("y", 617)
  .text("Line of fit is a Pearson correlation (pravastatin group r = 0.20; p < 0.001). The ellipses are prediction ellipses with 95% confidence interval")
  .attr("font-family", "Lato, sans-serif").attr("font-size", 16).attr("fill", "#222")
  .attr("textLength", 1057).attr("lengthAdjust", "spacingAndGlyphs")
svg.append("text").attr("x", 40).attr("y", 644)
  .text("under the assumption the samples are bivariate normal to display linear correlation. LDL = low-density lipoprotein.")
  .attr("font-family", "Lato, sans-serif").attr("font-size", 16).attr("fill", "#222")
  .attr("textLength", 877).attr("lengthAdjust", "spacingAndGlyphs")

var y = d3.scaleLinear().domain([-100, 100]).range([panelBottom, panelTop])

// y axis on the left panel only
var yAxis = svg.append("g").attr("transform", "translate(127,0)")
  .call(d3.axisLeft(y).tickValues(yTicks).tickFormat(plain).tickSize(5).tickPadding(8))
yAxis.select(".domain").remove()
yAxis.selectAll("line").attr("stroke", "#333").attr("stroke-width", 1.5)
yAxis.selectAll("text").attr("font-size", 17.5).attr("fill", "#4d4d4d").attr("font-family", null)

svg.append("text").attr("transform", "translate(62,311) rotate(-90)")
  .attr("text-anchor", "middle").text("Change in Troponin Concentration, %")
  .attr("font-size", 17).attr("fill", "#333").attr("textLength", 313).attr("lengthAdjust", "spacingAndGlyphs")

panels.forEach(function(p, i){
  var x = d3.scaleLinear().domain([-70, 70]).range([p.left, p.left + panelW])
  var g = svg.append("g")

  g.append("clipPath").attr("id", "clip" + i).append("rect")
    .attr("x", p.left).attr("y", panelTop).attr("width", panelW).attr("height", panelBottom - panelTop)

  // faint grid
  g.selectAll(".vminor").data(xMinor).enter().append("line")
    .attr("x1", function(d){ return x(d) }).attr("x2", function(d){ return x(d) })
    .attr("y1", panelTop).attr("y2", panelBottom).attr("stroke", "#f4f4f4").attr("stroke-width", 0.8)
  g.selectAll(".hminor").data(yMinor).enter().append("line")
    .attr("y1", function(d){ return y(d) }).attr("y2", function(d){ return y(d) })
    .attr("x1", p.left).attr("x2", p.left + panelW).attr("stroke", "#f4f4f4").attr("stroke-width", 0.8)
  g.selectAll(".vmajor").data(xTicks).enter().append("line")
    .attr("x1", function(d){ return x(d) }).attr("x2", function(d){ return x(d) })
    .attr("y1", panelTop).attr("y2", panelBottom).attr("stroke", "#eeeeee").attr("stroke-width", 1)
  g.selectAll(".hmajor").data(yTicks).enter().append("line")
    .attr("y1", function(d){ return y(d) }).attr("y2", function(d){ return y(d) })
    .attr("x1", p.left).attr("x2", p.left + panelW).attr("stroke", "#eeeeee").attr("stroke-width", 1)

  var inner = g.append("g").attr("clip-path", "url(#clip" + i + ")")

  inner.selectAll("circle").data(p.points).enter().append("circle")
    .attr("cx", function(d){ return x(d[0]) })
    .attr("cy", function(d){ return y(d[1]) })
    .attr("r", 2.9)
    .attr("fill", p.fill).attr("fill-opacity", p.opacity)

  // reference lines at zero
  inner.append("line").attr("x1", x(0)).attr("x2", x(0)).attr("y1", panelTop).attr("y2", panelBottom)
    .attr("stroke", "#777").attr("stroke-width", 2.6).attr("stroke-dasharray", "9,5")
  inner.append("line").attr("x1", p.left).attr("x2", p.left + panelW).attr("y1", y(0)).attr("y2", y(0))
    .attr("stroke", "#777").attr("stroke-width", 2.6).attr("stroke-dasharray", "9,5")

  // prediction ellipse
  var e = p.ellipse
  var ring = d3.range(0, 361, 2).map(function(a){
    var t = a * Math.PI / 180
    return [e.cx + k * e.sx * Math.cos(t),
            e.cy + k * (e.r * e.sy * Math.cos(t) + e.sy * Math.sqrt(1 - e.r * e.r) * Math.sin(t))]
  })
  var line = d3.line().x(function(d){ return x(d[0]) }).y(function(d){ return y(d[1]) })
  inner.append("path").attr("d", line(ring)).attr("fill", "none")
    .attr("stroke", p.stroke).attr("stroke-width", 1.3)

  if (p.fit) {
    var f = p.fit
    inner.append("path")
      .attr("d", line([[f.from, f.intercept + f.slope * f.from], [f.to, f.intercept + f.slope * f.to]]))
      .attr("stroke", p.stroke).attr("stroke-width", 1.3).attr("fill", "none")
  }

  g.append("rect").attr("x", p.left).attr("y", panelTop).attr("width", panelW).attr("height", panelBottom - panelTop)
    .attr("fill", "none").attr("stroke", "#4d4d4d").attr("stroke-width", 2)

  var xAxis = g.append("g").attr("transform", "translate(0," + panelBottom + ")")
    .call(d3.axisBottom(x).tickValues(xTicks).tickFormat(plain).tickSize(5).tickPadding(9))
  xAxis.select(".domain").remove()
  xAxis.selectAll("line").attr("stroke", "#333").attr("stroke-width", 1.5)
  xAxis.selectAll("text").attr("font-size", 17.5).attr("fill", "#4d4d4d").attr("font-family", null)

  g.append("text").attr("x", x(0)).attr("y", 121).attr("text-anchor", "middle")
    .text(p.name).attr("font-style", "italic").attr("font-size", 17.5).attr("fill", "#444")

  g.append("text").attr("x", x(0)).attr("y", 550).attr("text-anchor", "middle")
    .text("Change in LDL Concentration, %").attr("font-size", 17).attr("fill", "#333")
    .attr("textLength", 269).attr("lengthAdjust", "spacingAndGlyphs")
})
</script>
</body>
</html>
